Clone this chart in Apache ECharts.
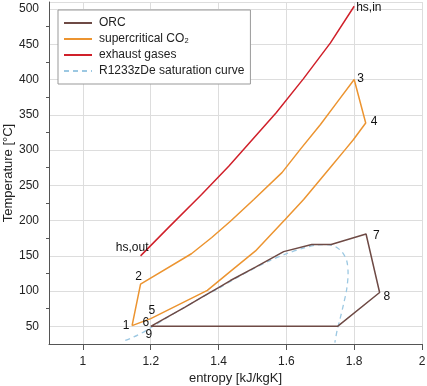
<!DOCTYPE html>
<html>
<head>
<meta charset="utf-8">
<script src="https://cdn.jsdelivr.net/npm/echarts@6/dist/echarts.min.js"></script>
<style>html,body{margin:0;padding:0;background:#fff;}#c{width:427px;height:386px;}</style>
</head>
<body>
<div id="c"></div>
<script>
// ORC cycle (entropy kJ/kgK, temperature °C)
const orcS = [1.2, 1.3, 1.35, 1.4, 1.435, 1.509, 1.592, 1.675, 1.732, 1.835, 1.875, 1.751, 1.2];
const orcT = [50, 77, 91, 105, 115, 134, 156, 166, 166, 181, 98, 50, 50];
// supercritical CO2 cycle
const co2S = [1.145, 1.17, 1.32, 1.38, 1.435, 1.504, 1.587, 1.641, 1.7, 1.75, 1.8, 1.834, 1.798, 1.774, 1.729, 1.651, 1.597, 1.509, 1.435, 1.367, 1.2, 1.145];
const co2T = [51, 110, 153, 176, 199, 230, 268, 301, 336, 368, 400, 338.5, 315, 301, 275, 230, 202, 157, 128, 101, 61, 51];
// exhaust gases
const gasS = [1.17, 1.25, 1.35, 1.43, 1.5, 1.57, 1.65, 1.73, 1.8];
const gasT = [150, 189, 237, 277, 315, 353, 401, 452, 504];
// R1233zDe saturation curve
const satS = [1.125, 1.15, 1.175, 1.2, 1.25, 1.3, 1.35, 1.4, 1.45, 1.5, 1.55, 1.6, 1.65, 1.69, 1.72, 1.745, 1.765, 1.778, 1.782, 1.778, 1.768, 1.758, 1.75, 1.743];
const satT = [30, 35, 41, 48, 63, 77, 91, 104, 118, 131, 143, 153, 161, 165.5, 166, 163, 155, 143, 125, 103, 80, 60, 45, 27];
// state point labels
const ptNames = ['hs,in', 'hs,out', '1', '2', '3', '4', '5', '6', '7', '8', '9'];
const ptS = [1.8, 1.17, 1.145, 1.17, 1.8, 1.834, 1.2, 1.2, 1.835, 1.875, 1.2];
const ptT = [504, 150, 51, 110, 400, 338.5, 61, 50, 181, 98, 50];

const seriesNames = ['ORC', 'supercritical CO₂', 'exhaust gases', 'R1233zDe saturation curve'];

const zip = (a, b) => a.map((v, i) => [v, b[i]]);
const FONT = 'Liberation Sans, Arial, sans-serif';

// label placement (align, offset in px) for each state point
const lblStyle = {
  'hs,in': ['left', [2, 1]],
  'hs,out': ['right', [8, -8]],
  '1': ['center', [-6, 0]],
  '2': ['center', [-2, -7]],
  '3': ['left', [3, -1]],
  '4': ['left', [5, -1]],
  '5': ['center', [1, -8]],
  '6': ['center', [-5, -4]],
  '7': ['left', [7, 2]],
  '8': ['left', [4, 4]],
  '9': ['center', [-2, 8]]
};

const solidIcon = 'path://M0,0h28v2h-28z';
const dashIcon = 'path://M0,0h5v2h-5z M9,0h5v2h-5z M18,0h5v2h-5z M27,0h1v2h-1z';

const chart = echarts.init(document.getElementById('c'), null, {renderer: 'canvas'});
chart.setOption({
  animation: false,
  textStyle: {fontFamily: FONT},
  grid: {left: 49, right: 5, top: 2, bottom: 42, containLabel: false, outerBoundsMode: 'none'},
  legend: {
    orient: 'vertical', left: 58, top: 10,
    data: [
      {name: seriesNames[0], icon: solidIcon},
      {name: seriesNames[1], icon: solidIcon},
      {name: seriesNames[2], icon: solidIcon},
      {name: seriesNames[3], icon: dashIcon}
    ],
    backgroundColor: '#fff', borderColor: '#999', borderWidth: 1,
    padding: [6, 6, 6, 6], itemGap: 2, itemWidth: 28, itemHeight: 2,
    textStyle: {fontFamily: FONT, fontSize: 12, lineHeight: 14, color: '#222', padding: [0, 0, 0, 2]}
  },
  xAxis: {
    type: 'value', min: 0.9, max: 2.0, splitNumber: 5,
    name: 'entropy [kJ/kgK]', nameLocation: 'middle', nameGap: 28, nameMoveOverlap: false,
    nameTextStyle: {fontFamily: FONT, fontSize: 13, color: '#222'},
    axisLine: {lineStyle: {color: '#555', width: 1}},
    axisTick: {show: true, length: 6, lineStyle: {color: '#555'}},
    axisLabel: {fontFamily: FONT, fontSize: 12, color: '#222', margin: 12, showMinLabel: false,
      formatter: v => (Math.abs(v - 0.9) < 1e-6 ? '' : String(+v.toFixed(1)))},
    splitLine: {show: true, lineStyle: {color: '#ddd', width: 1}}
  },
  yAxis: {
    type: 'value', min: 25, max: 510, splitNumber: 10,
    name: 'Temperature [°C]', nameLocation: 'middle', nameGap: 34, nameMoveOverlap: false,
    nameTextStyle: {fontFamily: FONT, fontSize: 13, color: '#222'},
    axisLine: {show: true, lineStyle: {color: '#555', width: 1}},
    axisTick: {show: false},
    minorTick: {show: true, splitNumber: 2, length: 3, lineStyle: {color: '#555'}},
    axisLabel: {fontFamily: FONT, fontSize: 12, color: '#222', margin: 10, showMinLabel: false, showMaxLabel: false,
      formatter: v => (v % 50 === 0 ? String(v) : '')},
    splitLine: {show: true, lineStyle: {color: '#ddd', width: 1}}
  },
  series: [
    {name: seriesNames[0], type: 'line', data: zip(orcS, orcT), showSymbol: false, symbol: 'none',
     lineStyle: {color: '#6e4a45', width: 1.5}, itemStyle: {color: '#6e4a45'}, z: 4},
    {name: seriesNames[1], type: 'line', data: zip(co2S, co2T), showSymbol: false, symbol: 'none',
     lineStyle: {color: '#ec9430', width: 1.5}, itemStyle: {color: '#ec9430'}, z: 3},
    {name: seriesNames[2], type: 'line', data: zip(gasS, gasT), showSymbol: false, symbol: 'none',
     lineStyle: {color: '#d0202a', width: 1.5}, itemStyle: {color: '#d0202a'}, z: 3},
    {name: seriesNames[3], type: 'line', data: zip(satS, satT), showSymbol: false, symbol: 'none', smooth: 0.3,
     lineStyle: {color: '#9cc8e2', width: 1.3, type: [5, 4]}, itemStyle: {color: '#9cc8e2'}, z: 2},
    {name: 'labels', type: 'scatter', symbol: 'circle', symbolSize: 0.01, itemStyle: {color: '#111'}, silent: true, z: 6,
     data: ptNames.map((n, i) => ({
       name: n, value: [ptS[i], ptT[i]],
       label: {show: true, position: 'inside', formatter: n, align: lblStyle[n][0],
         verticalAlign: 'middle', offset: lblStyle[n][1], opacity: 1,
         fontFamily: FONT, fontSize: 12, color: '#111', textBorderWidth: 0}
     }))}
  ]
});
</script>
</body>
</html>
